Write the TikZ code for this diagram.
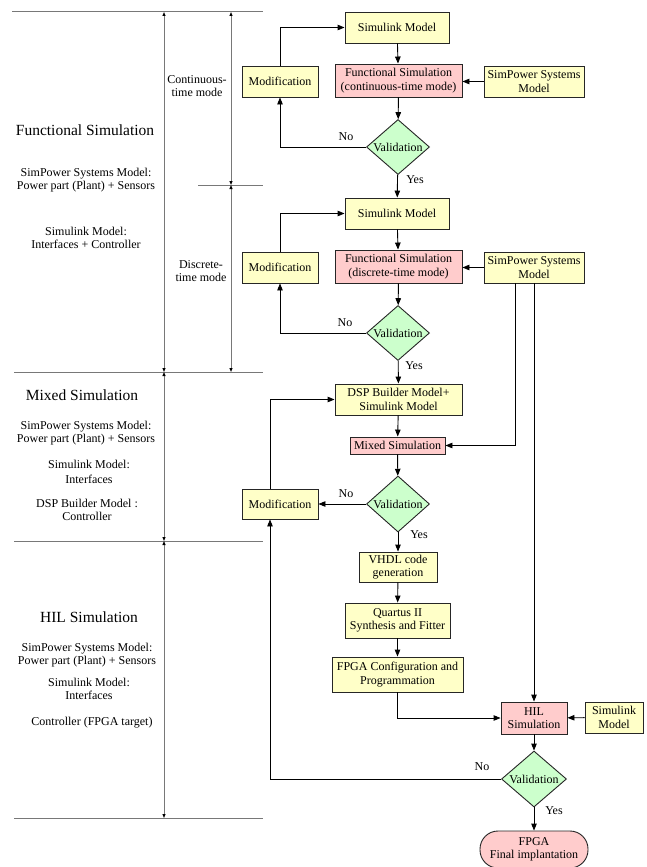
\documentclass[tikz,border=0pt]{standalone}
\usepackage{fontspec}
\setmainfont{Liberation Serif}
\usetikzlibrary{arrows.meta,shapes.geometric}
\definecolor{yfill}{RGB}{255,255,200}
\definecolor{pfill}{RGB}{255,204,204}
\definecolor{gfill}{RGB}{204,255,204}
\definecolor{rulegray}{RGB}{120,120,120}
\newcommand{\fsz}{\fontsize{12}{13.5}\selectfont}
\newcommand{\tsz}{\fontsize{15.5}{17}\selectfont}
\tikzset{
  box/.style={draw=black!85, line width=0.9pt, fill=yfill, inner sep=0pt, align=center, font=\fsz},
  pbox/.style={box, fill=pfill},
  dia/.style={diamond, draw=black!85, line width=0.9pt, fill=gfill, inner sep=0pt, font=\fsz, minimum width=63pt, minimum height=55pt},
  conn/.style={line width=0.9pt, -{Triangle[length=7pt,width=5.5pt]}},
  plain/.style={line width=0.9pt},
  lbl/.style={font=\fsz, inner sep=0pt},
  txt/.style={font=\fsz, inner sep=0pt, align=center},
  ttl/.style={font=\tsz, inner sep=0pt},
  rule/.style={draw=rulegray, line width=1pt},
  dim/.style={draw=rulegray, line width=1pt, {Triangle[length=4pt,width=3pt,black]}-{Triangle[length=4pt,width=3pt,black]}}
}
\begin{document}
\begin{tikzpicture}[x=1pt,y=-1pt]
\useasboundingbox[fill=white] (0,0) rectangle (647,867);

% ---- left column rules
\coordinate (r1a) at (12,12);   \coordinate (r1b) at (263,12);
\coordinate (r2a) at (198,185); \coordinate (r2b) at (263,185);
\coordinate (r3a) at (14,372);  \coordinate (r3b) at (263,372);
\coordinate (r4a) at (14,541);  \coordinate (r4b) at (263,541);
\coordinate (r5a) at (14,818);  \coordinate (r5b) at (263,818);
\draw[rule] (r1a) -- (r1b);
\draw[rule] (r2a) -- (r2b);
\draw[rule] (r3a) -- (r3b);
\draw[rule] (r4a) -- (r4b);
\draw[rule] (r5a) -- (r5b);
\draw[dim] (164,12) -- (164,372);
\draw[dim] (164,372) -- (164,541);
\draw[dim] (164,541) -- (164,818);
\draw[dim] (231,12) -- (231,185);
\draw[dim] (231,185) -- (231,372);

% ---- left column texts
\node[txt] (cm) at (197,86) {Continuous-\\time mode};
\node[txt] (dm) at (201,271) {Discrete-\\time mode};
\node[ttl] (t1) at (85,130) {Functional Simulation};
\node[txt] (t1a) at (86,180) {SimPower Systems Model:\\Power part (Plant) + Sensors};
\node[txt] (t1b) at (86,238) {Simulink Model:\\Interfaces + Controller};
\node[ttl] (t2) at (82,395) {Mixed Simulation};
\node[txt] (t2a) at (86,433) {SimPower Systems Model:\\Power part (Plant) + Sensors};
\node[lbl] (t2b) at (89,464) {Simulink Model:};
\node[lbl] (t2c) at (89,479) {Interfaces};
\node[txt] (t2d) at (87,510) {DSP Builder Model :\\Controller};
\node[ttl] (t3) at (89,617) {HIL Simulation};
\node[txt] (t3a) at (87,655) {SimPower Systems Model:\\Power part (Plant) + Sensors};
\node[txt] (t3b) at (89,689) {Simulink Model:\\Interfaces};
\node[lbl] (t3c) at (92,723) {Controller (FPGA target)};

% ---- section 1
\node[box, minimum width=104pt, minimum height=31pt] (sim1) at (397,27.5) {Simulink Model};
\node[box, minimum width=76pt, minimum height=31pt] (mod1) at (280,81.5) {Modification};
\node[pbox, minimum width=127pt, minimum height=33pt] (fs1) at (398.5,80.5) {Functional Simulation\\(continuous-time mode)};
\node[box, minimum width=100pt, minimum height=31pt] (sp1) at (534,81.5) {SimPower Systems\\Model};
\node[dia] (val1) at (398,147) {\makebox[0pt]{Validation}};
\node[lbl] (no1) at (346,137) {No};
\node[lbl] (yes1) at (415,180) {Yes};
\draw[conn] (sim1) -- (fs1);
\draw[conn] (sp1) -- (fs1.east |- sp1.west);
\draw[conn] (fs1) -- (val1);
\draw[conn] (val1.west) -| (mod1.south);
\draw[conn] (mod1.north) |- (sim1.west);

% ---- section 2
\node[box, minimum width=104pt, minimum height=31pt] (sim2) at (397,213.5) {Simulink Model};
\node[box, minimum width=76pt, minimum height=31pt] (mod2) at (280,267.5) {Modification};
\node[pbox, minimum width=127pt, minimum height=33pt] (fs2) at (398.5,266.5) {Functional Simulation\\(discrete-time mode)};
\node[box, minimum width=100pt, minimum height=31pt] (sp2) at (534,267.5) {SimPower Systems\\Model};
\node[dia] (val2) at (398,333) {\makebox[0pt]{Validation}};
\node[lbl] (no2) at (345,323) {No};
\node[lbl] (yes2) at (414,366) {Yes};
\draw[conn] (val1) -- (sim2);
\draw[conn] (sim2) -- (fs2);
\draw[conn] (sp2) -- (fs2.east |- sp2.west);
\draw[conn] (fs2) -- (val2);
\draw[conn] (val2.west) -| (mod2.south);
\draw[conn] (mod2.north) |- (sim2.west);

% ---- section 3
\node[box, minimum width=127pt, minimum height=31pt] (dsp) at (398.5,399.5) {DSP Builder Model+\\Simulink Model};
\node[pbox, minimum width=95pt, minimum height=17pt] (mix) at (397.5,445.5) {Mixed Simulation};
\node[dia, minimum height=56pt] (val3) at (398,504) {\makebox[0pt]{Validation}};
\node[box, minimum width=76pt, minimum height=30pt] (mod3) at (280,504) {Modification};
\node[lbl] (no3) at (346,494) {No};
\node[lbl] (yes3) at (419,535) {Yes};
\draw[conn] (val2) -- (dsp);
\draw[conn] (dsp) -- (mix);
\draw[conn] (mix) -- (val3);
\draw[conn] (val3) -- (mod3);
\draw[conn] ([xshift=-10pt]mod3.north) |- (dsp.west);
\draw[conn] ([xshift=-19pt]sp2.south) |- (mix.east);

% ---- section 4
\node[box, minimum width=78pt, minimum height=30pt] (vhdl) at (398,567) {VHDL code\\generation};
\node[box, minimum width=105pt, minimum height=35pt] (quar) at (397.5,620.5) {Quartus II\\Synthesis and Fitter};
\node[box, minimum width=131pt, minimum height=35pt] (cfg) at (397.5,674.5) {FPGA Configuration and\\Programmation};
\node[pbox, minimum width=66pt, minimum height=32pt] (hil) at (534,718) {HIL\\Simulation};
\node[box, minimum width=58pt, minimum height=31pt] (simr) at (614,717.5) {Simulink\\Model};
\node[dia, minimum width=65pt, minimum height=56pt] (val4) at (534,779) {\makebox[0pt]{Validation}};
\node[pbox, rounded corners=18pt, minimum width=108pt, minimum height=37pt] (fin) at (534,849.5) {FPGA\\Final implantation};
\node[lbl] (no4) at (482,767) {No};
\node[lbl] (yes4) at (554,811) {Yes};
\draw[conn] (val3) -- (vhdl);
\draw[conn] (vhdl) -- (quar);
\draw[conn] (quar) -- (cfg);
\draw[conn] (cfg.south) |- (hil.west);
\draw[conn] (sp2.south) -- (hil.north);
\draw[conn] (simr) -- (hil);
\draw[conn] (hil) -- (val4);
\draw[conn] (val4) -- (fin);
\draw[conn] (val4.west) -| ([xshift=-10pt]mod3.south);
\end{tikzpicture}
\end{document}
